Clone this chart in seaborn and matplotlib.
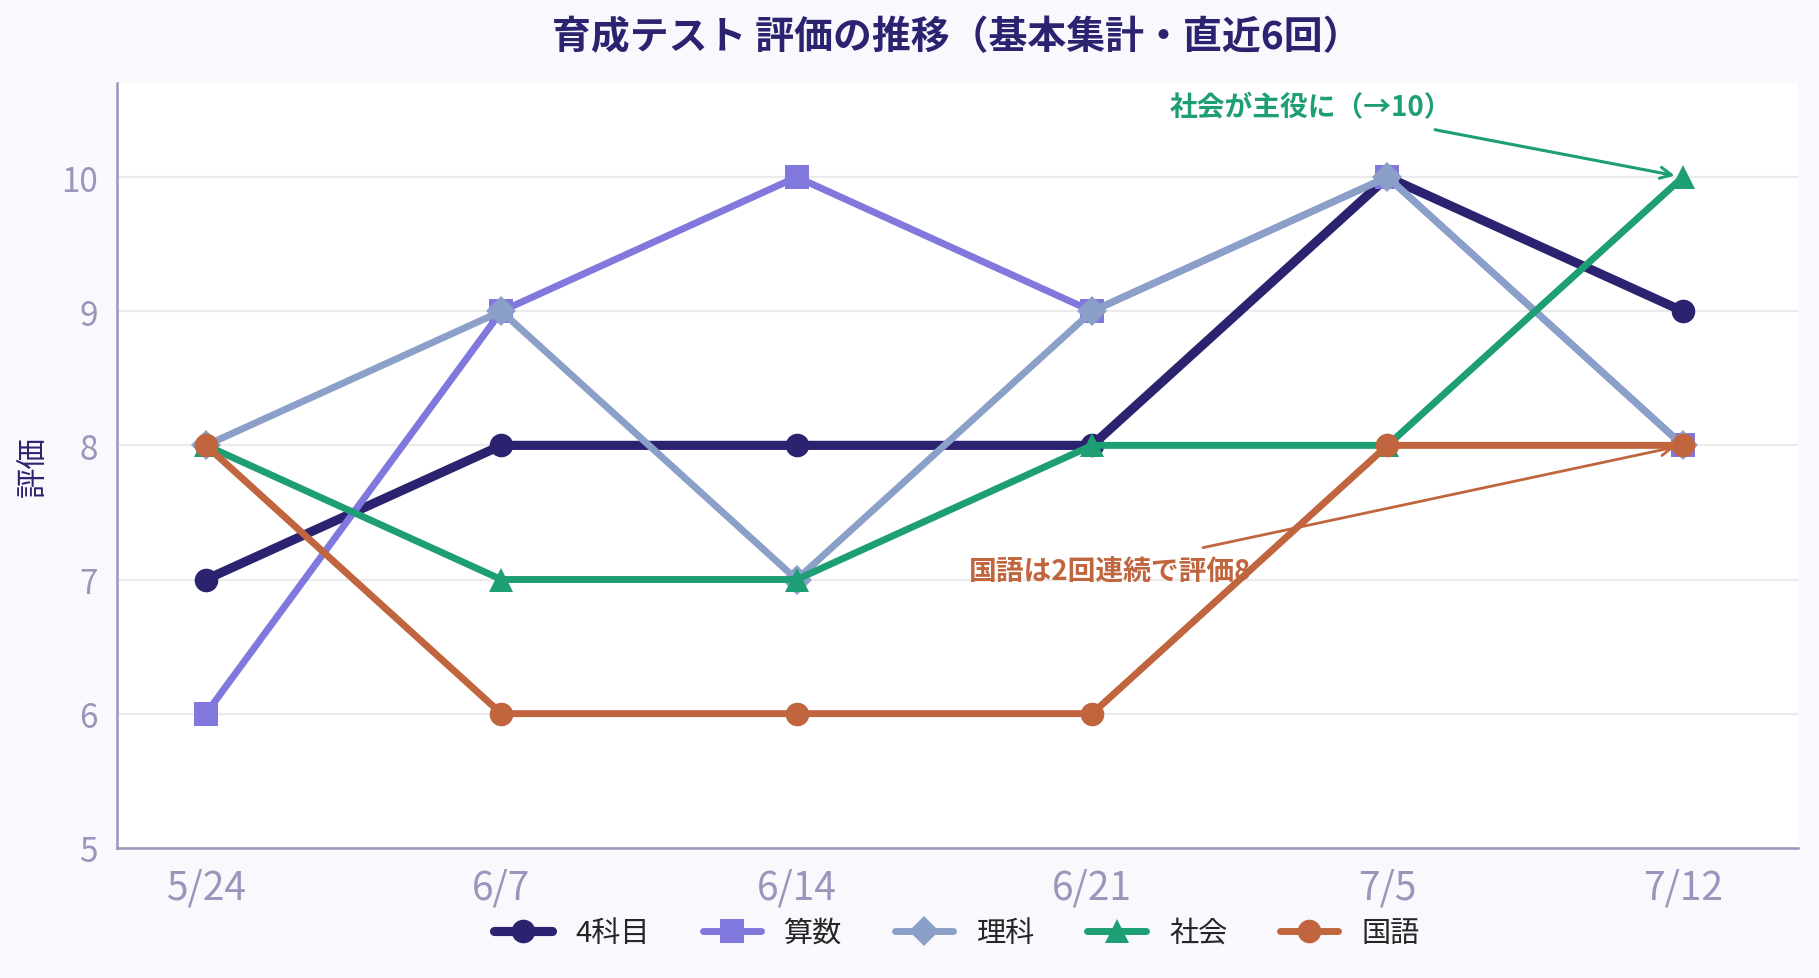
import matplotlib
matplotlib.use('Agg')
import matplotlib.pyplot as plt
import seaborn as sns
import pandas as pd

dates = ['5/24', '6/7', '6/14', '6/21', '7/5', '7/12']
subjects = ['4科目', '算数', '理科', '社会', '国語']
score_total = [7, 8, 8, 8, 10, 9]
score_math = [6, 9, 10, 9, 10, 8]
score_science = [8, 9, 7, 9, 10, 8]
score_social = [8, 7, 7, 8, 8, 10]
score_japanese = [8, 6, 6, 6, 8, 8]

colors = ['#2b2370', '#8078dc', '#8ba0c8', '#1e9e74', '#c0653e']
markers = ['o', 's', 'D', '^', 'o']

sns.set_theme(style='white')
plt.rcParams['font.family'] = ['Noto Sans CJK JP', 'DejaVu Sans']
plt.rcParams['axes.unicode_minus'] = False

df = pd.DataFrame({'日付': dates * 5,
                   '評価': score_total + score_math + score_science + score_social + score_japanese,
                   '科目': [s for s in subjects for _ in dates]})

fig = plt.figure(figsize=(9.095, 4.895), dpi=200, facecolor='#f8f8fd')
ax = fig.add_axes([0.0645, 0.133, 0.924, 0.781])
ax.set_facecolor('white')

for i, subj in enumerate(subjects):
    sub = df[df['科目'] == subj]
    lw = 3.3 if i == 0 else 2.5
    ms = 8.5 if markers[i] != 'D' else 7.8
    sns.lineplot(data=sub, x='日付', y='評価', ax=ax, color=colors[i], marker=markers[i],
                 markersize=ms, markeredgewidth=0, linewidth=lw, label=subj, sort=False)

ax.set_xlim(-0.3, 5.39)
ax.set_ylim(5, 10.7)
ax.set_yticks([5, 6, 7, 8, 9, 10])
ax.yaxis.grid(True, color='#ebebeb', linewidth=0.8)
ax.set_axisbelow(True)

grey = '#9a96bb'
for side in ['top', 'right']:
    ax.spines[side].set_visible(False)
for side in ['left', 'bottom']:
    ax.spines[side].set_color(grey)
    ax.spines[side].set_linewidth(0.9)
ax.tick_params(axis='both', colors=grey, length=3, width=0.8, direction='out')
ax.tick_params(axis='x', labelsize=14, pad=4)
ax.tick_params(axis='y', labelsize=12, pad=4)
ax.set_xlabel('')
ax.set_ylabel('評価', fontsize=11, color='#2b2370')
ax.yaxis.set_label_coords(-0.041, 0.5)

fig.suptitle('育成テスト 評価の推移（基本集計・直近6回）', x=0.526, y=0.962,
             fontsize=14, fontweight='bold', color='#2b2370', va='center')

ax.annotate('社会が主役に（→10）', xy=(5, 10), xytext=(3.74, 10.52),
            ha='center', va='center', fontsize=10, fontweight='bold', color=colors[3],
            arrowprops=dict(arrowstyle='->', color=colors[3], lw=1.1, patchA=None,
                            relpos=(0.94, -0.3), shrinkA=0, shrinkB=3))
ax.annotate('国語は2回連続で評価8', xy=(5, 8), xytext=(3.06, 7.06),
            ha='center', va='center', fontsize=10, fontweight='bold', color=colors[4],
            arrowprops=dict(arrowstyle='->', color=colors[4], lw=1.0, patchA=None,
                            relpos=(0.83, 1.35), shrinkA=0, shrinkB=3),
            zorder=1.5)

ax.get_legend().remove()
handles, labels = ax.get_legend_handles_labels()
fig.legend(handles, labels, loc='center', bbox_to_anchor=(0.526, 0.046), ncol=5,
           frameon=False, fontsize=10.5, handlelength=2.0, columnspacing=1.8, handletextpad=0.8)

plt.savefig('out.png', dpi=200, facecolor=fig.get_facecolor())
